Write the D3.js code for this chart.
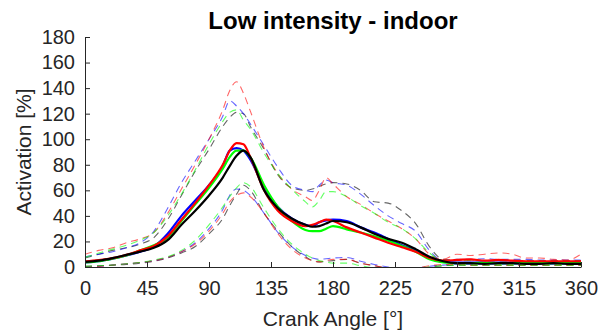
<!DOCTYPE html>
<html>
<head>
<meta charset="utf-8">
<script src="https://cdn.jsdelivr.net/npm/d3@7"></script>
<style>
  html, body { margin: 0; padding: 0; background: #fff; }
  svg { display: block; }
  text { font-family: "Liberation Sans", Arial, Helvetica, sans-serif; }
</style>
</head>
<body>
<svg id="chart" width="603" height="335"></svg>
<script>
// ---- data ----
const angles = [0,10,20,30,40,50,60,70,80,90,100,105,110,115,120,130,140,150,160,165,170,175,180,190,200,210,220,230,240,250,260,270,280,290,300,310,320,330,340,350,360];

const blackMean = [4,5,7,9.5,12,15,21,33,44,56,70,79,87,91,86,60,46,38,33,31.5,32,34,36,35,31,26,22,19,14,8,4.5,3,3,2.5,3,3,2.5,2.5,3,2.5,2.5];
const blueMean  = [3.5,4.5,6.5,9,12,16,26,40,52,64,79,91,93,91,84,62,47,38,33,32,35,36.5,37,36,31,27,22,17,13,7,4,3.5,3.5,3.5,3.5,3.5,3.5,3.5,3.5,3.5,3.5];
const redMean   = [4.5,5.5,7,9.5,13,16.5,24,37,50,64,80,91,97,96,86,60,44,36,32,33,35,37,36,31,27,23,19,15.5,12,7,5,5.5,6,5,5.5,5,4.5,4.5,4.5,4.5,4.5];
const greenMean = [3.5,4.5,6.5,9,13,17,23,36,49,62,77,86,91,91,86,64,47,36,29,28,28,30,32,29.5,27,24,20.5,16.5,12,6,3.5,3,3,3,3,3,3,3,3,3,3];

const blackUpper = [7,10,13,15,18,23,37,56,75,92,110,117,121,120,110,92,72,62,60,61,63,65,66,65,60,51,50,44,34,16,6,5.5,5.5,5,5.5,5,5,5,5,5,5];
const blueUpper  = [8,10,12,15,19,28,46,66,83,100,118,130,126,120,112,95,78,64,60,59,64,68,66,64,57,48,40,34,28,13,5,6,6,6.5,6,6,6,5.5,5.5,5.5,5.5];
const redUpper   = [10,13,15,19,22,27,42,61,80,100,123,138,145,136,122,93,73,61,55,52,60,70,65,55,49,42,36,30,22,10,6,10,9,10,11,10,7,7,6,5.5,10];
const greenUpper = [7.5,11,14,17,21,27,40,57,76,96,114,121,123,115,108,89,73,61,51,47,52,59,59,55,48,42,35,30,22,11,5,5,5,4.5,4.5,4.5,4.5,4.5,4.5,4.5,4.5];

const blackLower = [0.5,1,1.5,2,3,4.5,7,11,16,26,38,48,57,64,60,42,28,16,8,5,4,4.5,5,6,3,1,-1,-3,-2,0,1,1.5,1.5,1.5,1.5,1.5,1.5,1.5,1.5,1.5,1.5];
const blueLower  = [0,0.5,1.5,2.5,3.5,5,7.5,12,19,30,45,56,61,60,56,42,27,16,9,7,6,6.5,7,7.5,4.5,2,0,-2,-1,0.5,1.5,2,2,2,2,2,2,2,2,2,2];
const redLower   = [0,0.5,1.5,2.5,3.5,5,7.5,12,18,28,42,51,56,58,55,42,26,14,7,5,4,5,6,6,3,1,-1,-2,-1,1,2,2,1.5,1.5,1.5,1.5,1.5,1.5,1.5,1.5,1.5];
const greenLower = [0.5,1,1.5,2.5,3.5,5.5,8,13,21,33,47,55,62,66,63,46,30,18,10,7,5,4,3,3,1,-1,-3,-3,-1,0,1,1.5,1.5,1.5,1.5,1.5,1.5,1.5,1.5,1.5,1.5];

const xTicks = [0,45,90,135,180,225,270,315,360];
const yTicks = [0,20,40,60,80,100,120,140,160,180];

const titleText = "Low intensity - indoor";
const xLabel = "Crank Angle [°]";
const yLabel = "Activation [%]";

// ---- layout ----
const W = 603, H = 335;
const margin = {left: 85, right: 22, top: 37, bottom: 68};
const iw = W - margin.left - margin.right;
const ih = H - margin.top - margin.bottom;

const svg = d3.select("#chart");
const g = svg.append("g").attr("transform", `translate(${margin.left},${margin.top})`);

const x = d3.scaleLinear().domain([0, 360]).range([0, iw]);
const y = d3.scaleLinear().domain([0, 180]).range([ih, 0]);

svg.append("defs").append("clipPath").attr("id", "clip")
  .append("rect").attr("x", 0).attr("y", 0).attr("width", iw).attr("height", ih + 0.5);

const line = d3.line().x((d, i) => x(angles[i])).y(d => y(d)).curve(d3.curveMonotoneX);

const plot = g.append("g").attr("clip-path", "url(#clip)");

const dashed = [
  {data: blackUpper, color: "#000000"}, {data: blackLower, color: "#000000"},
  {data: blueUpper, color: "#0000ff"}, {data: blueLower, color: "#0000ff"},
  {data: redUpper, color: "#ff0000"}, {data: redLower, color: "#ff0000"},
  {data: greenUpper, color: "#00ff00"}, {data: greenLower, color: "#00ff00"}
];
dashed.forEach(s => {
  plot.append("path").attr("d", line(s.data))
    .attr("fill", "none").attr("stroke", s.color)
    .attr("stroke-opacity", 0.6)
    .attr("stroke-width", 1.1)
    .attr("stroke-dasharray", "7,5");
});

const solid = [
  {data: blueMean, color: "#0000ff"},
  {data: greenMean, color: "#00ff00"},
  {data: redMean, color: "#ff0000"},
  {data: blackMean, color: "#000000"}
];
solid.forEach(s => {
  plot.append("path").attr("d", line(s.data))
    .attr("fill", "none").attr("stroke", s.color)
    .attr("stroke-width", 2.2)
    .attr("stroke-linejoin", "round");
});

// ---- axes ----
const axisColor = "#262626";
const xAxis = g.append("g").attr("transform", `translate(0,${ih})`)
  .call(d3.axisBottom(x).tickValues(xTicks).tickSizeInner(-5).tickSizeOuter(0).tickPadding(14));
const yAxis = g.append("g")
  .call(d3.axisLeft(y).tickValues(yTicks).tickSizeInner(-5).tickSizeOuter(0).tickPadding(10));

[xAxis, yAxis].forEach(a => {
  a.select(".domain").attr("stroke", axisColor).attr("stroke-width", 1);
  a.selectAll(".tick line").attr("stroke", axisColor).attr("stroke-width", 1);
  a.selectAll(".tick text").attr("fill", axisColor)
    .style("font-size", "20px")
    .style("font-family", "'Liberation Sans', Arial, sans-serif");
});

// title
svg.append("text")
  .attr("x", margin.left + iw / 2).attr("y", 29)
  .attr("text-anchor", "middle")
  .style("font-size", "24px").style("font-weight", "bold")
  .attr("fill", "#000")
  .text(titleText);

// x label
svg.append("text")
  .attr("x", margin.left + iw / 2).attr("y", 326)
  .attr("text-anchor", "middle")
  .style("font-size", "21px")
  .attr("fill", axisColor)
  .text(xLabel);

// y label
svg.append("text")
  .attr("transform", `translate(31,${margin.top + ih / 2}) rotate(-90)`)
  .attr("text-anchor", "middle")
  .style("font-size", "21px")
  .attr("fill", axisColor)
  .text(yLabel);
</script>
</body>
</html>
